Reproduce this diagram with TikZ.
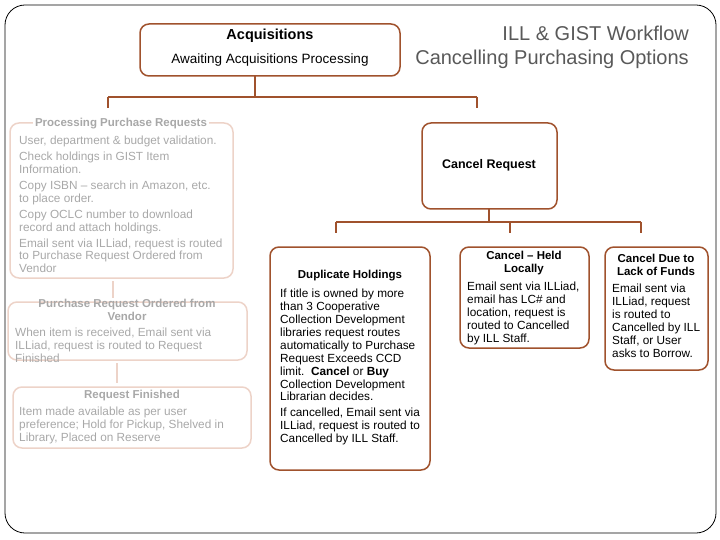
\documentclass[tikz,border=0pt]{standalone}
\usepackage{fontspec}
\setmainfont{Liberation Sans}
\definecolor{br}{HTML}{A0522D}
\definecolor{fb}{HTML}{EDD3C8}
\definecolor{ft}{HTML}{A8A8A8}
\begin{document}
\begin{tikzpicture}[x=1pt,y=-1pt,
  box/.style={draw=br,line width=1.5pt,rounded corners=9pt},
  fbox/.style={draw=fb,line width=1.5pt,rounded corners=9pt},
  con/.style={draw=br,line width=1.5pt},
  fcon/.style={draw=fb,line width=1.5pt},
  txt/.style={font=\fontsize{11.8}{12.9}\selectfont,align=left,anchor=north west,inner sep=0pt},
  ftxt/.style={txt,text=ft},
  hd/.style={font=\bfseries\fontsize{11.5}{12.9}\selectfont,align=center,inner sep=0pt}]
\useasboundingbox (0,0) rectangle (720,540);
\draw[black,line width=0.8pt,rounded corners=20pt] (5,5) rectangle (716,533);
% top
\draw[box] (140,24) rectangle (400,76);
\node[hd,font=\bfseries\fontsize{14.5}{16}\selectfont] (acq) at (270,36) {Acquisitions};
\node[font=\fontsize{13.5}{15}\selectfont,inner sep=0pt] (acq2) at (270,60) {Awaiting Acquisitions Processing};
\node[anchor=east,align=right,text=black!65,font=\fontsize{20}{24}\selectfont,inner sep=0pt] (title) at (689,47) {ILL \& GIST Workflow\\Cancelling Purchasing Options};
\coordinate (a1) at (255,76);
\coordinate (a2) at (108,97);
\coordinate (a3) at (477,97);
\draw[con] (a1) -- (255,97) (a2) -- (a3) (a3) -- (477,108);
\draw[con] (a2) -- (108,108);
% faded left
\draw[fbox] (10,123) rectangle (233,278);
\draw[fbox] (8,302) rectangle (247,360);
\draw[fbox] (13,387) rectangle (251,448);
\draw[fcon] (113,281) -- (113,298) (117,363) -- (117,383);
\node[hd,text=ft,fill=white,inner xsep=2pt] (p1) at (121,124) {Processing Purchase Requests};
\node[ftxt] (p1t) at (19,136) {User, department \& budget validation.\\[3pt]Check holdings in GIST Item\\Information.\\[3pt]Copy ISBN -- search in Amazon, etc.\\to place order.\\[3pt]Copy OCLC\ number to download\\record and attach holdings.\\[3pt]Email sent via ILLiad, request is routed\\to Purchase Request Ordered from\\Vendor};
\node[hd,text=ft] (p2) at (127,310) {Purchase Request Ordered from\\Vendor};
\node[ftxt] (p2t) at (15,328) {When item is received, Email sent via\\ILLiad, request is routed to Request\\Finished};
\node[hd,text=ft] (p3) at (132,396) {Request Finished};
\node[ftxt] (p3t) at (19,407) {Item made available as per user\\preference; Hold for Pickup, Shelved in\\Library, Placed on Reserve};
% cancel
\draw[box] (422,123) rectangle (557,209);
\node[hd,font=\bfseries\fontsize{12.5}{14}\selectfont] (cr) at (489,165) {Cancel Request};
\coordinate (c1) at (489,209);
\coordinate (c2) at (336,222);
\coordinate (c3) at (510,222);
\coordinate (c4) at (641,222);
\draw[con] (c1) -- (489,222) (c2) -- (c4) (c2) -- (336,233) (c3) -- (510,233) (c4) -- (641,233);
\draw[box] (270,247) rectangle (430,470);
\node[hd] (dh) at (350,276) {Duplicate Holdings};
\node[txt] (dht) at (280,289) {If title is owned by more\\than 3 Cooperative\\Collection Development\\libraries request routes\\automatically to Purchase\\Request Exceeds CCD\\limit.\ \ \textbf{Cancel} or \textbf{Buy}\\Collection Development\\Librarian decides.\\[3pt]If cancelled, Email sent via\\ILLiad, request is routed to\\Cancelled by ILL Staff.};
\draw[box] (460,247) rectangle (589,348);
\node[hd] (hl) at (524,263) {Cancel -- Held\\Locally};
\node[txt] (hlt) at (467,282) {Email sent via ILLiad,\\email has LC\# and\\location, request is\\routed to Cancelled\\by ILL Staff.};
\draw[box] (605,247) rectangle (708,370);
\node[hd] (lf) at (656,265) {Cancel Due to\\Lack of Funds};
\node[txt] (lft) at (612,284) {Email sent via\\ILLiad, request\\is routed to\\Cancelled by ILL\\Staff, or User\\asks to Borrow.};
\end{tikzpicture}
\end{document}
